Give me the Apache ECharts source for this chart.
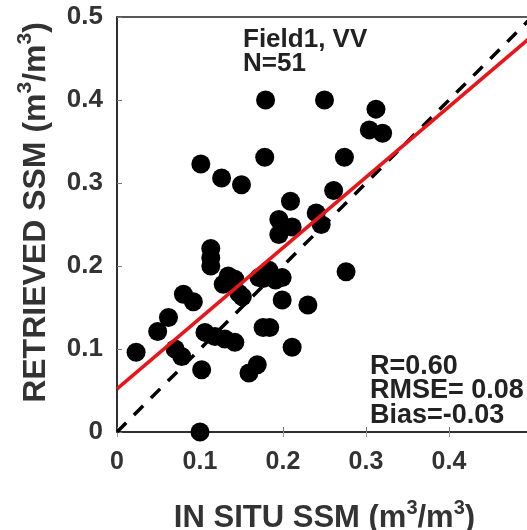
<!DOCTYPE html>
<html>
<head>
<meta charset="utf-8">
<script src="https://cdn.jsdelivr.net/npm/echarts@6/dist/echarts.min.js"></script>
<style>html,body{margin:0;padding:0;background:#fff}#c{width:527px;height:530px}</style>
</head>
<body>
<div id="c"></div>
<script>
const xTicks = [0, 0.1, 0.2, 0.3, 0.4, 0.5];
const yTicks = [0, 0.1, 0.2, 0.3, 0.4, 0.5];
const points = [
  [0.179,0.400],[0.250,0.400],[0.312,0.389],[0.304,0.364],[0.320,0.360],
  [0.274,0.331],[0.178,0.331],[0.101,0.323],[0.126,0.306],[0.150,0.298],
  [0.261,0.291],[0.209,0.278],[0.240,0.264],[0.195,0.256],[0.246,0.250],
  [0.211,0.247],[0.195,0.238],[0.113,0.221],[0.113,0.200],[0.276,0.193],
  [0.134,0.188],[0.142,0.184],[0.128,0.178],[0.171,0.186],[0.183,0.195],
  [0.191,0.183],[0.199,0.186],[0.147,0.167],[0.080,0.166],[0.092,0.157],
  [0.199,0.159],[0.230,0.153],[0.062,0.138],[0.049,0.121],[0.106,0.120],
  [0.118,0.115],[0.130,0.112],[0.142,0.108],[0.176,0.126],[0.184,0.126],
  [0.023,0.096],[0.070,0.100],[0.078,0.091],[0.211,0.102],[0.102,0.075],
  [0.159,0.071],[0.169,0.081],[0.100,0.000],[0.151,0.163],[0.113,0.210],
  [0.176,0.185]
];
const fitLine = [[0, 0.052], [0.5, 0.477]];
const oneToOne = [[0, 0], [0.5, 0.5]];
const headerLines = ['Field1, VV', 'N=51'];
const statLines = ['R=0.60', 'RMSE= 0.08', 'Bias=-0.03'];

const chart = echarts.init(document.getElementById('c'));
const FONT = '"Liberation Sans", Arial, sans-serif';
const labelColor = '#333';
function rich(big, small, pad) {
  return {
    b: {fontFamily: FONT, fontWeight: 'bold', fontSize: big, color: labelColor, verticalAlign: 'bottom', lineHeight: big + 5},
    s: {fontFamily: FONT, fontWeight: 'bold', fontSize: small, color: labelColor, verticalAlign: 'top', lineHeight: big + 5, padding: [0,0,pad,0]}
  };
}
const tickLabel = (v) => (v === 0 ? '0' : String(+v.toFixed(1)));
chart.setOption({
  animation: false,
  backgroundColor: '#fff',
  grid: {left: 117, top: 17, width: 415, height: 415, outerBoundsMode: 'none', containLabel: false,
    show: true, borderColor: '#222', borderWidth: 1.5, backgroundColor: 'transparent'},
  xAxis: [{
    type: 'value', min: xTicks[0], max: xTicks[xTicks.length-1], interval: 0.1,
    axisLine: {show: true, onZero: false, lineStyle: {color: '#222', width: 1.5}},
    axisTick: {show: true, inside: true, length: 5, lineStyle: {color: '#777'}},
    splitLine: {show: false},
    axisLabel: {color: labelColor, fontFamily: FONT, fontWeight: 'bold', fontSize: 25, margin: 18,
      formatter: v => (v >= 0.5 ? '' : tickLabel(v))},
    name: '{b|IN SITU SSM (m}{s|3}{b|/m}{s|3}{b|)}',
    nameLocation: 'middle', nameGap: 66,
    nameTextStyle: {rich: rich(31, 20, 16)}
  }, {
    type: 'value', position: 'top', min: xTicks[0], max: xTicks[xTicks.length-1], interval: 0.1,
    axisLine: {show: false}, axisLabel: {show: false}, splitLine: {show: false},
    axisTick: {show: true, inside: true, length: 5, lineStyle: {color: '#999'}}
  }],
  yAxis: {
    type: 'value', min: yTicks[0], max: yTicks[yTicks.length-1], interval: 0.1,
    axisLine: {show: true, onZero: false, lineStyle: {color: '#222', width: 1.5}},
    axisTick: {show: true, inside: true, length: 5, lineStyle: {color: '#777'}},
    splitLine: {show: false},
    axisLabel: {color: labelColor, fontFamily: FONT, fontWeight: 'bold', fontSize: 26, margin: 14,
      formatter: tickLabel},
    name: '{b|RETRIEVED SSM (m}{s|3}{b|/m}{s|3}{b|)}',
    nameLocation: 'middle', nameGap: 65, nameRotate: 90,
    nameTextStyle: {rich: rich(32, 21, 17), padding: [0, 0, 0, 24]}
  },
  series: [
    {type: 'scatter', data: points, symbol: 'circle', symbolSize: 19, itemStyle: {color: '#000', opacity: 1}, z: 2},
    {type: 'line', data: oneToOne, symbol: 'none', lineStyle: {color: '#000', width: 3.5, type: [13, 11]}, z: 3},
    {type: 'line', data: fitLine, symbol: 'none', lineStyle: {color: '#e8151b', width: 3.5}, z: 4}
  ],
  graphic: [
    {type: 'text', left: 243, top: 27, style: {text: headerLines.join('\n'), font: 'bold 26px ' + FONT, fill: '#222', lineHeight: 24}},
    {type: 'text', left: 370, top: 353, style: {text: statLines.join('\n'), font: 'bold 27px ' + FONT, fill: '#222', lineHeight: 24.5}}
  ]
});
</script>
</body>
</html>
